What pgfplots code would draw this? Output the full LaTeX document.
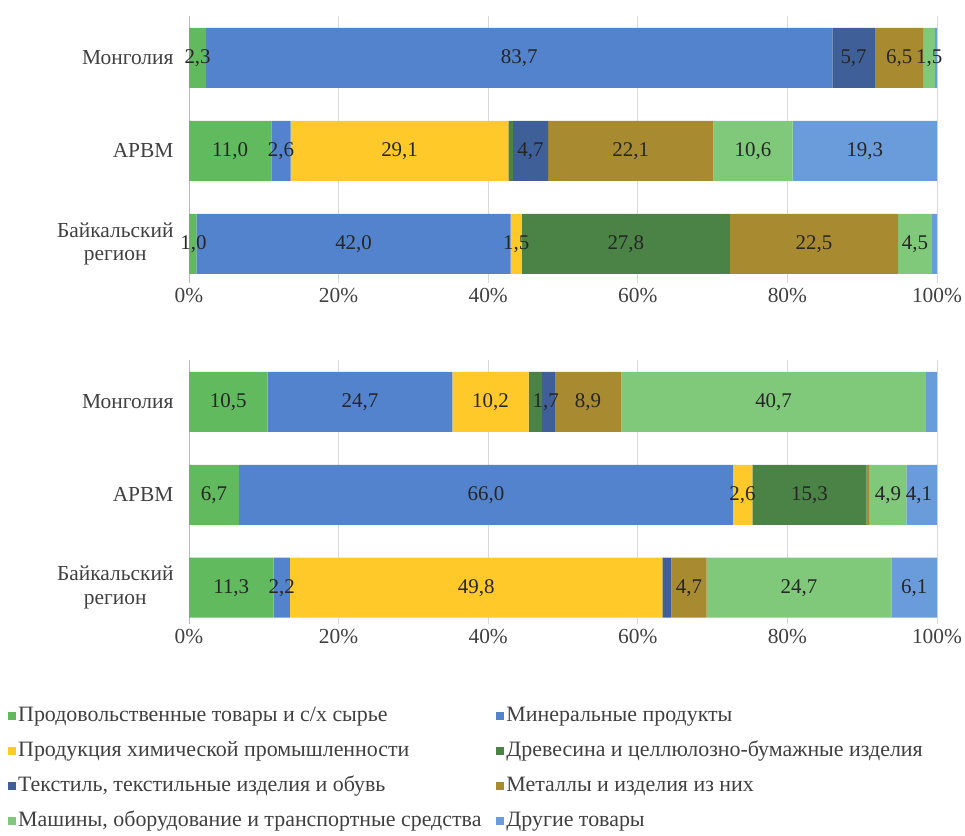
\documentclass[border=0pt]{standalone}
\usepackage{pgfplots}
\usepackage{pgfplotstable}
\pgfplotsset{compat=1.18}
\usepackage{fontspec}
\setmainfont{Liberation Serif}

\definecolor{cFood}{HTML}{62BA5E}
\definecolor{cMin}{HTML}{5283CC}
\definecolor{cChem}{HTML}{FFC92A}
\definecolor{cWood}{HTML}{4B8245}
\definecolor{cTex}{HTML}{3F5F99}
\definecolor{cMet}{HTML}{A88A30}
\definecolor{cMach}{HTML}{80C97A}
\definecolor{cOth}{HTML}{6A9BDB}
\definecolor{txt}{HTML}{404040}
\definecolor{lbl}{HTML}{262626}

% y: 0 = Байкальский регион, 1 = АРВМ, 2 = Монголия
\pgfplotstableread{
y food mineral chem wood textile metals machines other
0 1.0  42.0  1.5  27.8 0    22.5 4.5  0.7
1 11.0 2.6   29.1 0.6  4.7  22.1 10.6 19.3
2 2.3  83.7  0    0    5.7  6.5  1.5  0.3
}\topdata
\pgfplotstableread{
y food mineral chem wood textile metals machines other
0 11.3 2.2  49.8 0    1.2  4.7  24.7 6.1
1 6.7  66.0 2.6  15.3 0    0.4  4.9  4.1
2 10.5 24.7 10.2 1.8  1.7  8.9  40.7 1.5
}\botdata

\pgfplotstableread{
x y l
1.15 2 2,3
44.15 2 83,7
88.85 2 5,7
94.95 2 6,5
98.95 2 1,5
5.5 1 11,0
12.3 1 2,6
28.15 1 29,1
45.65 1 4,7
59.05 1 22,1
75.4 1 10,6
90.35 1 19,3
0.6 0 1,0
22.0 0 42,0
43.75 0 1,5
58.4 0 27,8
83.55 0 22,5
97.05 0 4,5
}\toplabels
\pgfplotstableread{
x y l
5.25 2 10,5
22.85 2 24,7
40.3 2 10,2
47.7 2 1,7
53.35 2 8,9
78.15 2 40,7
3.35 1 6,7
39.7 1 66,0
74.0 1 2,6
82.95 1 15,3
93.45 1 4,9
97.6 1 4,1
5.65 0 11,3
12.4 0 2,2
38.4 0 49,8
66.85 0 4,7
81.55 0 24,7
96.95 0 6,1
}\botlabels

\pgfplotsset{
  myframe/.style={
    scale only axis, width=748bp,
    xmin=0, xmax=100, ymax=2.45,
  },
  mybars/.style={
    myframe, xbar stacked, bar width=60bp,
    axis x line*=bottom, axis y line*=left,
    x axis line style={draw=none},
    y axis line style={draw=gray!55, line width=0.8pt},
    major tick length=0pt,
    xtick={0,20,40,60,80,100},
    xticklabels={0\%,20\%,40\%,60\%,80\%,100\%},
    ytick={0,1,2},
    yticklabels={{Байкальский\\регион},АРВМ,Монголия},
    xmajorgrids, grid style={draw=gray!30, line width=0.8pt},
    ticklabel style={font=\fontsize{21.5}{24}\selectfont, text=txt},
    yticklabel style={align=center, xshift=-12bp},
    xticklabel style={yshift=-2bp},
    legend image code/.code={\fill[##1,draw=none] (0bp,-4bp) rectangle (8bp,4bp);},
  },
  mylabs/.style={
    myframe, hide axis, clip=false,
  },
  mylab/.style={
    draw=none, mark=none, nodes near coords, point meta=explicit symbolic,
    every node near coord/.append style={anchor=center, font=\fontsize{21}{22}\selectfont, text=lbl},
  },
}

\begin{document}
\begin{tikzpicture}
\useasboundingbox (0bp,0bp) rectangle (965bp,836bp);

% upper chart
\begin{axis}[mybars, at={(189bp,553bp)}, anchor=south west, height=267bp, ymin=-0.42]
  \addplot[fill=cFood, draw=none] table[x=food, y=y] {\topdata};
  \addplot[fill=cMin, draw=none] table[x=mineral, y=y] {\topdata};
  \addplot[fill=cChem, draw=none] table[x=chem, y=y] {\topdata};
  \addplot[fill=cWood, draw=none] table[x=wood, y=y] {\topdata};
  \addplot[fill=cTex, draw=none] table[x=textile, y=y] {\topdata};
  \addplot[fill=cMet, draw=none] table[x=metals, y=y] {\topdata};
  \addplot[fill=cMach, draw=none] table[x=machines, y=y] {\topdata};
  \addplot[fill=cOth, draw=none] table[x=other, y=y] {\topdata};
\end{axis}
\begin{axis}[mylabs, at={(189bp,553bp)}, anchor=south west, height=267bp, ymin=-0.42]
  \addplot[mylab] table[x=x, y=y, meta=l] {\toplabels};
\end{axis}

% lower chart
\begin{axis}[mybars, at={(189bp,212bp)}, anchor=south west, height=264bp, ymin=-0.39,
  legend columns=2,
  legend cell align=left,
  legend style={at={(-0.242,-0.307)}, anchor=north west, draw=none, fill=none,
    inner sep=0pt, row sep=13bp,
    nodes={font=\fontsize{22}{23}\selectfont, text=txt, inner sep=2bp, text height=14bp, text depth=4bp},
    /tikz/every even column/.append style={column sep=13bp}},
]
  \addplot[fill=cFood, draw=none] table[x=food, y=y] {\botdata};
  \addlegendentry{Продовольственные товары и с/х сырье}
  \addplot[fill=cMin, draw=none] table[x=mineral, y=y] {\botdata};
  \addlegendentry{Минеральные продукты}
  \addplot[fill=cChem, draw=none] table[x=chem, y=y] {\botdata};
  \addlegendentry{Продукция химической промышленности}
  \addplot[fill=cWood, draw=none] table[x=wood, y=y] {\botdata};
  \addlegendentry{Древесина и целлюлозно-бумажные изделия}
  \addplot[fill=cTex, draw=none] table[x=textile, y=y] {\botdata};
  \addlegendentry{Текстиль, текстильные изделия и обувь}
  \addplot[fill=cMet, draw=none] table[x=metals, y=y] {\botdata};
  \addlegendentry{Металлы и изделия из них}
  \addplot[fill=cMach, draw=none] table[x=machines, y=y] {\botdata};
  \addlegendentry{Машины, оборудование и транспортные средства}
  \addplot[fill=cOth, draw=none] table[x=other, y=y] {\botdata};
  \addlegendentry{Другие товары}
\end{axis}
\begin{axis}[mylabs, at={(189bp,212bp)}, anchor=south west, height=264bp, ymin=-0.39]
  \addplot[mylab] table[x=x, y=y, meta=l] {\botlabels};
\end{axis}
\end{tikzpicture}
\end{document}
